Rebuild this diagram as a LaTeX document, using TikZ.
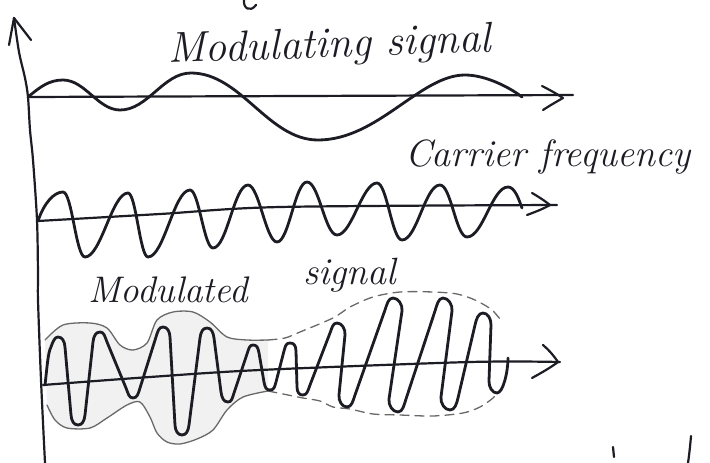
\documentclass[tikz,border=0pt]{standalone}
\usepackage{fontspec}
\usetikzlibrary{calc}
\definecolor{ink}{RGB}{28,28,36}
\definecolor{pencil}{RGB}{105,105,105}
% half-cycle: peak (#1,#2) down to trough (#3,#4); shoulder offsets w=#5, h=#6
\newcommand\wdn[6]{.. controls ({#1+0.6*#5},#2) and ($({#1+#5},{#2+#6})!-6pt!({#3-#5},{#4-#6})$) .. ({#1+#5},{#2+#6}) -- ({#3-#5},{#4-#6}) .. controls ($({#3-#5},{#4-#6})!-6pt!({#1+#5},{#2+#6})$) and ({#3-0.6*#5},#4) .. (#3,#4)}
% half-cycle: trough (#1,#2) up to peak (#3,#4); shoulder offsets w=#5, h=#6
\newcommand\wup[6]{.. controls ({#1+0.6*#5},#2) and ($({#1+#5},{#2-#6})!-6pt!({#3-#5},{#4+#6})$) .. ({#1+#5},{#2-#6}) -- ({#3-#5},{#4+#6}) .. controls ($({#3-#5},{#4+#6})!-6pt!({#1+#5},{#2-#6})$) and ({#3-0.6*#5},#4) .. (#3,#4)}
\begin{document}
\begin{tikzpicture}[x=1pt,y=-1pt,
  axisline/.style={draw=ink,line width=2.2pt,line cap=round,line join=round},
  wave/.style={draw=ink,line width=2.8pt,line cap=round,line join=round},
  env/.style={draw=pencil,line width=1.3pt,line cap=round,line join=round},
  envdash/.style={env,dash pattern=on 9pt off 6pt},
  lbl/.style={inner sep=0pt,text=ink}]
\useasboundingbox[fill=white] (0,0) rectangle (710,463);

% ---------- labels ----------
\node[lbl,anchor=base west,rotate=2,font=\itshape\fontsize{43}{50}\selectfont] (tmodg) at (168,63) {Modulating signal};
\node[lbl,anchor=base west,font=\itshape\fontsize{38}{45}\selectfont] (tcarr) at (405,166) {Carrier frequency};
\node[lbl,anchor=base west,font=\itshape\fontsize{37}{44}\selectfont] (tmodd) at (88,302) {Modulated};
\node[lbl,anchor=base west,font=\itshape\fontsize{38}{45}\selectfont] (tsig) at (303,284) {signal};

% ---------- vertical axis ----------
\coordinate (vtip) at (14,18);
\coordinate (vbot) at (45,463);
\draw[axisline] plot[smooth] coordinates {(vtip) (19,52) (25,78) (28,97) (30,130) (33,160) (37,220) (38,275) (38,300) (41,380) (vbot)};
\draw[axisline] (9,45) -- (vtip) -- (31,40);

% ---------- modulating signal ----------
\coordinate (a1s) at (28,97);
\coordinate (a1e) at (573,95);
\draw[axisline] (a1s) -- (a1e);
\draw[axisline] (542,86) .. controls (550,90) and (557,94) .. (563,98) .. controls (556,102) and (549,106) .. (543,110);
\draw[wave] (a1s) .. controls +(12,-10) and +(-14,0) .. (63,80)
 .. controls +(22,0) and +(-22,0) .. (120,110)
 .. controls +(28,0) and +(-28,0) .. (191,73)
 .. controls +(50,0) and +(-50,0) .. (318,140)
 .. controls +(60,0) and +(-45,0) .. (465,75)
 .. controls +(22,0) and +(-10,-8) .. (522,97);

% ---------- carrier ----------
\coordinate (a2s) at (38,221);
\coordinate (a2e) at (557,205);
\draw[axisline] plot[smooth] coordinates {(a2s) (160,214) (280,207) (a2e)};
\draw[axisline] (532,193) .. controls (539,197) and (545,201) .. (550,205) .. controls (543,209) and (535,212) .. (527,215);
\draw[wave] (a2s) .. controls +(6,-18) and +(-9,0) .. (63,192)
 .. controls +(9,0) and +(-9,0) .. (85,257)
 .. controls +(16,0) and +(-16,0) .. (128,193)
 .. controls +(8,0) and +(-8,0) .. (148,257)
 .. controls +(16,0) and +(-16,0) .. (190,190)
 .. controls +(9,0) and +(-9,0) .. (213,248)
 .. controls +(14,0) and +(-14,0) .. (248,185)
 .. controls +(11,0) and +(-11,0) .. (277,242)
 .. controls +(12,0) and +(-12,0) .. (307,182)
 .. controls +(12,0) and +(-12,0) .. (337,235)
 .. controls +(15,0) and +(-15,0) .. (377,183)
 .. controls +(10,0) and +(-10,0) .. (402,240)
 .. controls +(15,0) and +(-15,0) .. (440,185)
 .. controls +(11,0) and +(-11,0) .. (467,237)
 .. controls +(16,0) and +(-16,0) .. (508,187)
 .. controls +(7,0) and +(-3,-8) .. (522,208);

% ---------- modulated ----------
\fill[pencil!9] plot[smooth] coordinates {(45,340) (63,325) (90,323) (107,328) (120,345) (133,350) (147,343) (157,320) (173,312) (193,312) (210,322) (227,337) (247,340) (268,340)}
  -- plot[smooth] coordinates {(268,391) (243,397) (227,410) (213,430) (197,439) (180,444) (167,442) (157,433) (150,417) (140,402) (127,405) (107,418) (90,428) (67,428) (55,420) (47,405)} -- cycle;
\draw[env] plot[smooth] coordinates {(45,340) (63,325) (90,323) (107,328) (120,345) (133,350) (147,343) (157,320) (173,312) (193,312) (210,322) (227,337) (247,340) (268,340)};
\draw[envdash] plot[smooth] coordinates {(268,340) (285,338) (300,332) (333,318) (350,307) (373,297) (400,292) (433,292) (457,294) (475,300) (492,310) (503,323)};
\draw[env] plot[smooth] coordinates {(47,405) (55,420) (67,428) (90,428) (107,418) (127,405) (140,402) (150,417) (157,433) (167,442) (180,444) (197,439) (213,430) (227,410) (243,397) (268,391)};
\draw[envdash] plot[smooth] coordinates {(268,391) (283,394) (303,398) (320,401) (333,407) (350,409) (373,414) (400,415) (433,416) (463,413) (480,407) (493,398) (503,387)};

\coordinate (a3s) at (43,385);
\coordinate (a3e) at (560,362);
\draw[axisline] plot[smooth] coordinates {(a3s) (150,377) (260,370) (470,362) (a3e)};
\draw[axisline] (543,345) .. controls (549,350) and (554,356) .. (558,362) .. controls (550,368) and (541,373) .. (532,378);
\draw[wave] (45,385) .. controls (47,368) and (48,352) .. (51,347) .. controls (53,341) and (55,337) .. (58,337)
 \wdn{58}{337}{78}{425}{7}{10}
 \wup{78}{425}{100}{332}{7}{10}
 \wdn{100}{332}{133}{398}{7}{10}
 \wup{133}{398}{163}{327}{7}{10}
 \wdn{163}{327}{182}{435}{7}{10}
 \wup{182}{435}{207}{328}{7}{10}
 \wdn{207}{328}{228}{402}{7}{10}
 \wup{228}{402}{253}{345}{6}{9}
 \wdn{253}{345}{270}{390}{6}{8}
 \wup{270}{390}{290}{343}{6}{8}
 \wdn{290}{343}{303}{395}{6}{8}
 \wup{303}{395}{337}{323}{7}{10}
 \wdn{337}{323}{347}{407}{8}{12}
 \wup{347}{407}{393}{298}{8}{12}
 \wdn{393}{298}{398}{412}{9}{13}
 \wup{398}{412}{443}{298}{8}{13}
 \wdn{443}{298}{450}{410}{9}{13}
 \wup{450}{410}{483}{313}{8}{12}
 \wdn{483}{313}{497}{393}{8}{12}
 .. controls (503,393) and (508,372) .. (508,358);

% ---------- cut-off strokes at the page edges ----------
\draw[axisline] (244,0) .. controls (243,8) and (250,13) .. (256,5);
\draw[axisline] (613,447) -- (614,457);
\draw[axisline] (691,436) .. controls (690,448) and (689,456) .. (688,463);
\end{tikzpicture}
\end{document}
